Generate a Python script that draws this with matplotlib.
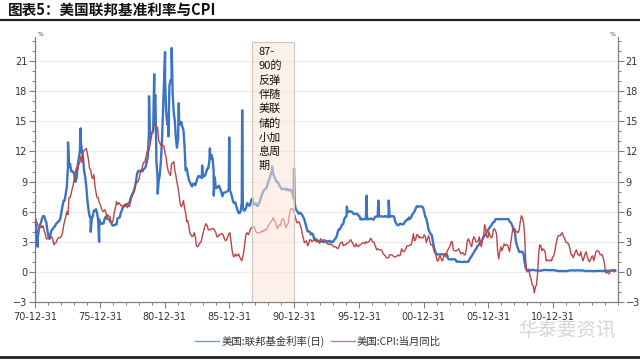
import numpy as np
import matplotlib
matplotlib.use("Agg")
import matplotlib.pyplot as plt
from matplotlib.patches import Rectangle
from matplotlib.ticker import FixedLocator, MultipleLocator

plt.rcParams['font.family'] = ['Noto Sans CJK SC', 'DejaVu Sans']

title = "图表5：美国联邦基准利率与CPI"
series_names = ["美国:联邦基金利率(日)", "美国:CPI:当月同比"]
note_text = "87-\n90的\n反弹\n伴随\n美联\n储的\n小加\n息周\n期"
watermark = "华泰要资讯"
xtick_years = [1971, 1976, 1981, 1986, 1991, 1996, 2001, 2006, 2011]
xtick_labels = ["70-12-31", "75-12-31", "80-12-31", "85-12-31", "90-12-31",
                "95-12-31", "00-12-31", "05-12-31", "10-12-31"]
yticks = [-3, 0, 3, 6, 9, 12, 15, 18, 21]
shade_start, shade_end, shade_top = 1987.75, 1990.99, 22.9

start_year = 1971
# Fed funds rate, monthly level (%), 1971-01 ... 2015-10
fed = [
    4.9, 3.7, 3.4, 4.16, 4.63, 4.91, 5.31, 5.56, 5.55, 5.20, 4.91, 4.14,
    3.50, 3.29, 3.83, 4.17, 4.27, 4.46, 4.55, 4.80, 4.87, 5.04, 5.06, 5.33,
    5.94, 6.58, 7.09, 7.12, 7.84, 8.49, 10.40, 10.50, 10.78, 10.01, 10.03, 9.95,
    9.65, 8.97, 9.35, 10.51, 11.31, 11.93, 12.92, 12.01, 11.34, 10.06, 9.45, 8.53,
    7.13, 6.24, 5.54, 5.49, 5.22, 5.55, 6.10, 6.14, 6.24, 5.82, 5.22, 5.20,
    4.87, 4.77, 4.84, 4.82, 5.29, 5.48, 5.31, 5.29, 5.25, 5.03, 4.95, 4.65,
    4.61, 4.68, 4.69, 4.73, 5.35, 5.39, 5.42, 5.90, 6.14, 6.47, 6.51, 6.56,
    6.70, 6.78, 6.79, 6.89, 7.36, 7.60, 7.81, 8.04, 8.45, 8.96, 9.76, 10.03,
    10.07, 10.06, 10.09, 10.01, 10.24, 10.29, 10.47, 10.94, 11.43, 13.77, 13.18, 13.78,
    13.82, 14.13, 17.19, 17.61, 10.98, 9.47, 9.03, 9.61, 10.87, 12.81, 15.85, 18.90,
    19.08, 15.93, 14.70, 15.72, 18.52, 19.10, 19.04, 17.82, 15.87, 15.08, 13.31, 12.37,
    13.22, 14.78, 14.68, 14.94, 14.45, 14.15, 12.59, 10.12, 10.31, 9.71, 9.20, 8.95,
    8.68, 8.51, 8.77, 8.80, 8.63, 8.98, 9.37, 9.56, 9.45, 9.48, 9.34, 9.47,
    9.56, 9.59, 9.91, 10.29, 10.32, 11.06, 11.23, 11.64, 11.30, 9.99, 9.43, 8.38,
    8.35, 8.50, 8.58, 8.27, 7.97, 7.53, 7.88, 7.90, 7.92, 7.99, 8.05, 8.27,
    8.14, 7.86, 7.48, 6.99, 6.85, 6.92, 6.56, 6.17, 5.89, 5.85, 6.04, 6.91,
    6.43, 6.10, 6.13, 6.37, 6.85, 6.73, 6.58, 6.73, 7.22, 7.29, 6.69, 6.77,
    6.83, 6.58, 6.58, 6.87, 7.09, 7.51, 7.75, 8.01, 8.19, 8.30, 8.35, 8.76,
    9.12, 9.36, 9.85, 9.84, 9.81, 9.53, 9.24, 8.99, 9.02, 8.84, 8.55, 8.45,
    8.23, 8.24, 8.28, 8.26, 8.18, 8.29, 8.15, 8.13, 8.20, 8.11, 7.81, 7.31,
    6.91, 6.25, 6.12, 5.91, 5.78, 5.90, 5.82, 5.66, 5.45, 5.21, 4.81, 4.43,
    4.03, 4.06, 3.98, 3.73, 3.82, 3.76, 3.25, 3.30, 3.22, 3.10, 3.09, 2.92,
    3.02, 3.03, 3.07, 2.96, 3.00, 3.04, 3.06, 3.03, 3.09, 2.99, 3.02, 2.96,
    3.05, 3.25, 3.34, 3.56, 4.01, 4.25, 4.26, 4.47, 4.73, 4.76, 5.29, 5.45,
    5.53, 5.92, 5.98, 6.05, 6.01, 6.00, 5.85, 5.74, 5.80, 5.76, 5.80, 5.60,
    5.56, 5.22, 5.31, 5.22, 5.24, 5.27, 5.40, 5.22, 5.30, 5.24, 5.31, 5.29,
    5.25, 5.19, 5.39, 5.51, 5.50, 5.56, 5.52, 5.54, 5.54, 5.50, 5.52, 5.50,
    5.56, 5.51, 5.49, 5.45, 5.49, 5.56, 5.54, 5.55, 5.51, 5.07, 4.83, 4.68,
    4.63, 4.76, 4.81, 4.74, 4.74, 4.76, 4.99, 5.07, 5.22, 5.20, 5.42, 5.30,
    5.45, 5.73, 5.85, 6.02, 6.27, 6.53, 6.54, 6.50, 6.52, 6.51, 6.51, 6.40,
    5.98, 5.49, 5.31, 4.80, 4.21, 3.97, 3.77, 3.65, 3.07, 2.49, 2.09, 1.82,
    1.73, 1.74, 1.73, 1.75, 1.75, 1.75, 1.73, 1.74, 1.75, 1.75, 1.34, 1.24,
    1.24, 1.26, 1.25, 1.26, 1.26, 1.22, 1.01, 1.03, 1.01, 1.01, 1.00, 0.98,
    1.00, 1.01, 1.00, 1.00, 1.00, 1.03, 1.26, 1.43, 1.61, 1.76, 1.93, 2.16,
    2.28, 2.50, 2.63, 2.79, 3.00, 3.04, 3.26, 3.50, 3.62, 3.78, 4.00, 4.16,
    4.29, 4.49, 4.59, 4.79, 4.94, 4.99, 5.24, 5.25, 5.25, 5.25, 5.25, 5.24,
    5.25, 5.26, 5.26, 5.25, 5.25, 5.25, 5.26, 5.02, 4.94, 4.76, 4.49, 4.24,
    3.94, 2.98, 2.61, 2.28, 1.98, 2.00, 2.01, 2.00, 1.81, 0.97, 0.39, 0.16,
    0.15, 0.22, 0.18, 0.15, 0.18, 0.21, 0.16, 0.16, 0.15, 0.12, 0.12, 0.12,
    0.11, 0.13, 0.16, 0.20, 0.20, 0.18, 0.18, 0.19, 0.19, 0.19, 0.19, 0.18,
    0.17, 0.16, 0.14, 0.10, 0.09, 0.09, 0.07, 0.10, 0.08, 0.07, 0.08, 0.07,
    0.08, 0.10, 0.13, 0.14, 0.16, 0.16, 0.16, 0.13, 0.14, 0.16, 0.16, 0.16,
    0.14, 0.15, 0.14, 0.15, 0.11, 0.09, 0.09, 0.08, 0.08, 0.09, 0.08, 0.09,
    0.07, 0.07, 0.08, 0.09, 0.09, 0.10, 0.09, 0.09, 0.09, 0.09, 0.09, 0.12,
    0.11, 0.11, 0.11, 0.12, 0.12, 0.13, 0.13, 0.14, 0.14, 0.12,
]
# Daily spikes of the fed funds rate
fed_spike_dates = [1971.2, 1973.55, 1974.52, 1975.3, 1975.95, 1979.8, 1980.2, 1980.47,
                   1981.04, 1981.3, 1981.55, 1982.1, 1983.9, 1984.5, 1984.8, 1985.99,
                   1986.99, 1989.3, 1990.99, 1995.07, 1996.6, 1997.5, 1998.3]
fed_spike_values = [2.5, 12.9, 14.3, 4.0, 3.0, 17.5, 19.7, 7.8,
                    21.9, 13.5, 22.3, 16.8, 10.6, 12.3, 7.6, 13.4,
                    16.1, 10.5, 10.3, 6.5, 7.6, 7.1, 7.1]

# CPI year-on-year (%), monthly, 1971-01 ... 2015-10
cpi = [
    5.3, 5.0, 4.7, 4.2, 4.4, 4.6, 4.4, 4.6, 4.1, 3.8, 3.3, 3.3,
    3.3, 3.5, 3.5, 3.5, 3.2, 2.7, 2.9, 2.9, 3.2, 3.4, 3.4, 3.4,
    3.6, 3.9, 4.6, 5.1, 5.5, 6.0, 5.7, 7.4, 7.4, 7.8, 8.3, 8.7,
    9.4, 10.0, 10.4, 10.1, 10.7, 10.9, 11.5, 10.9, 11.9, 12.1, 12.2, 12.3,
    11.8, 11.2, 10.3, 10.2, 9.5, 9.3, 9.7, 8.6, 7.9, 7.4, 7.4, 6.9,
    6.7, 6.3, 6.1, 6.0, 6.2, 6.0, 5.4, 5.7, 5.5, 5.5, 4.9, 4.9,
    5.2, 6.0, 6.4, 7.0, 6.7, 6.9, 6.8, 6.6, 6.6, 6.4, 6.7, 6.7,
    6.8, 6.4, 6.6, 6.5, 7.0, 7.4, 7.7, 7.9, 8.3, 8.9, 8.9, 9.0,
    9.3, 9.9, 10.1, 10.5, 10.9, 10.9, 11.3, 11.8, 12.2, 12.1, 12.6, 13.3,
    13.9, 14.2, 14.8, 14.7, 14.4, 14.4, 13.1, 12.9, 12.6, 12.8, 12.6, 12.5,
    11.8, 11.4, 10.5, 10.0, 9.8, 9.6, 10.8, 10.8, 11.0, 10.1, 9.6, 8.9,
    8.4, 7.6, 6.8, 6.5, 6.7, 7.1, 6.4, 5.9, 5.0, 5.1, 4.6, 3.8,
    3.7, 3.5, 3.6, 3.9, 3.5, 2.6, 2.5, 2.6, 2.9, 2.9, 3.3, 3.8,
    4.2, 4.6, 4.8, 4.6, 4.2, 4.2, 4.2, 4.3, 4.3, 4.3, 4.1, 3.9,
    3.5, 3.5, 3.7, 3.7, 3.8, 3.8, 3.6, 3.3, 3.1, 3.2, 3.5, 3.8,
    3.9, 3.1, 2.2, 1.6, 1.5, 1.8, 1.6, 1.6, 1.8, 1.5, 1.3, 1.1,
    1.5, 2.1, 3.0, 3.8, 3.9, 3.7, 3.9, 4.3, 4.4, 4.5, 4.5, 4.4,
    4.0, 3.9, 3.9, 3.9, 3.9, 4.0, 4.1, 4.0, 4.2, 4.2, 4.2, 4.4,
    4.7, 4.8, 5.0, 5.1, 5.4, 5.2, 5.0, 4.7, 4.3, 4.5, 4.7, 4.6,
    5.2, 5.3, 5.2, 4.7, 4.4, 4.7, 4.8, 5.6, 6.2, 6.3, 6.3, 6.1,
    5.7, 5.3, 4.9, 4.9, 5.0, 4.7, 4.4, 3.8, 3.4, 2.9, 3.0, 3.1,
    2.6, 2.8, 3.2, 3.2, 3.0, 3.1, 3.2, 3.1, 3.0, 3.2, 3.0, 2.9,
    3.3, 3.2, 3.1, 3.2, 3.2, 3.0, 2.8, 2.8, 2.7, 2.8, 2.7, 2.7,
    2.5, 2.5, 2.5, 2.4, 2.3, 2.5, 2.8, 2.9, 3.0, 2.6, 2.7, 2.7,
    2.8, 2.9, 2.9, 3.1, 3.2, 3.0, 2.8, 2.6, 2.5, 2.8, 2.6, 2.5,
    2.7, 2.7, 2.8, 2.9, 2.9, 2.8, 3.0, 2.9, 3.0, 3.0, 3.3, 3.3,
    3.0, 3.0, 2.8, 2.5, 2.2, 2.3, 2.2, 2.2, 2.2, 2.1, 1.8, 1.7,
    1.6, 1.4, 1.4, 1.4, 1.7, 1.7, 1.7, 1.6, 1.5, 1.5, 1.5, 1.6,
    1.7, 1.6, 1.7, 2.3, 2.1, 2.0, 2.1, 2.3, 2.6, 2.6, 2.6, 2.7,
    2.7, 3.2, 3.8, 3.1, 3.2, 3.7, 3.7, 3.4, 3.5, 3.4, 3.4, 3.4,
    3.7, 3.5, 2.9, 3.3, 3.6, 3.2, 2.7, 2.7, 2.6, 2.1, 1.9, 1.6,
    1.1, 1.1, 1.5, 1.6, 1.2, 1.1, 1.5, 1.8, 1.5, 2.0, 2.2, 2.4,
    2.6, 3.0, 3.0, 2.2, 2.1, 2.1, 2.1, 2.2, 2.3, 2.0, 1.8, 1.9,
    1.9, 1.7, 1.7, 2.3, 3.1, 3.3, 3.0, 2.7, 2.5, 3.2, 3.5, 3.3,
    3.0, 3.0, 3.1, 3.5, 2.8, 2.5, 3.2, 3.6, 4.7, 4.3, 3.5, 3.4,
    4.0, 3.6, 3.4, 3.5, 4.2, 4.3, 4.1, 3.8, 2.1, 1.3, 2.0, 2.5,
    2.1, 2.4, 2.8, 2.6, 2.7, 2.7, 2.4, 2.0, 2.8, 3.5, 4.3, 4.1,
    4.3, 4.0, 4.0, 3.9, 4.2, 5.0, 5.6, 5.4, 4.9, 3.7, 1.1, 0.1,
    0.0, 0.2, -0.4, -0.7, -1.3, -1.4, -2.1, -1.5, -1.3, -0.2, 1.8, 2.7,
    2.6, 2.1, 2.3, 2.2, 2.0, 1.1, 1.2, 1.1, 1.1, 1.2, 1.1, 1.5,
    1.6, 2.1, 2.7, 3.2, 3.6, 3.6, 3.6, 3.8, 3.9, 3.5, 3.4, 3.0,
    2.9, 2.9, 2.7, 2.3, 1.7, 1.7, 1.4, 1.7, 2.0, 2.2, 1.8, 1.7,
    1.6, 2.0, 1.5, 1.1, 1.4, 1.8, 2.0, 1.5, 1.2, 1.0, 1.2, 1.5,
    1.6, 1.1, 1.5, 2.0, 2.1, 2.1, 2.0, 1.7, 1.7, 1.7, 1.3, 0.8,
    -0.1, 0.0, -0.1, -0.2, 0.0, 0.1, 0.2, 0.2, 0.0, 0.2,
]

blue = "#3b74c2"
red = "#b9464a"

# monthly positions (decimal years)
cpi_x = start_year + (np.arange(len(cpi)) + 0.5) / 12.0
fed_x_m = start_year + (np.arange(len(fed)) + 0.5) / 12.0
fed_x = np.concatenate([fed_x_m, fed_spike_dates])
fed_y = np.concatenate([fed, fed_spike_values])
order = np.argsort(fed_x, kind="stable")
fed_x, fed_y = fed_x[order], fed_y[order]

fig = plt.figure(figsize=(6.4, 3.6), dpi=100)
fig.patch.set_facecolor("white")
ax = fig.add_axes([35/640, 58/360, 583/640, 265/360])

ax.plot(fed_x, fed_y, color=blue, lw=1.7, zorder=3, label=series_names[0])
ax.plot(cpi_x, cpi, color=red, lw=1.0, zorder=4, label=series_names[1])

ax.add_patch(Rectangle((shade_start, -3), shade_end - shade_start, shade_top + 3,
                       facecolor="#fce4d6", alpha=0.55, edgecolor="none", zorder=5))
ax.add_patch(Rectangle((shade_start, -3), shade_end - shade_start, shade_top + 3,
                       facecolor="none", edgecolor="#cfc6bf", lw=0.8, zorder=6))
ax.text(shade_start + 0.5, shade_top - 0.45, note_text, fontsize=8, va="top", ha="left",
        linespacing=1.45, color="#111111", zorder=7)

ax.set_xlim(1971.0, 2016.0)
ax.set_ylim(-3, 23.4)
ax.xaxis.set_major_locator(FixedLocator(xtick_years))
ax.set_xticks(xtick_years)
ax.set_xticklabels(xtick_labels)
ax.xaxis.set_minor_locator(MultipleLocator(1))
ax.set_yticks(yticks)
ax.yaxis.set_minor_locator(MultipleLocator(1))
ax.grid(axis="y", which="major", color="#ececec", lw=0.8, zorder=0)

ax.spines["top"].set_visible(False)
for s in ["left", "right", "bottom"]:
    ax.spines[s].set_color("#7f7f7f")
    ax.spines[s].set_linewidth(0.9)

ax.tick_params(axis="both", which="major", direction="out", length=4, width=0.8,
               color="#7f7f7f", labelsize=7, labelcolor="#333333", pad=1.5)
ax.tick_params(axis="both", which="minor", direction="out", length=2.5, width=0.7,
               color="#7f7f7f")
ax.tick_params(axis="y", which="both", right=True, labelright=True)
ax.tick_params(axis="x", pad=3)
for lab in ax.get_xticklabels() + ax.get_yticklabels() + ax.yaxis.get_ticklabels():
    lab.set_family(["DejaVu Sans"])
for lab in ax.yaxis.get_majorticklabels():
    lab.set_family(["DejaVu Sans"])

ax.text(0.004, 1.0, "%", transform=ax.transAxes, fontsize=4.5, color="#333333",
        ha="left", va="bottom", family=["DejaVu Sans"])
ax.text(0.996, 1.0, "%", transform=ax.transAxes, fontsize=4.5, color="#333333",
        ha="right", va="bottom", family=["DejaVu Sans"])

# title and rules
fig.text(8/640, 1 - 10/360, title, fontsize=10.5, fontweight="bold", ha="left",
         va="center", color="#111111")
fig.add_artist(plt.Line2D([0, 1], [1 - 20/360, 1 - 20/360], color="#222222", lw=1.6,
                          transform=fig.transFigure))
fig.add_artist(plt.Line2D([0, 1], [1 - 357/360, 1 - 357/360], color="#222222", lw=2.0,
                          transform=fig.transFigure))

leg = fig.legend(loc="center", bbox_to_anchor=(318/640, 1 - 341/360), ncol=2,
                 frameon=False, fontsize=7.5, handlelength=2.3, handletextpad=0.2,
                 columnspacing=0.6)
for t in leg.get_texts():
    t.set_color("#333333")
for l in leg.get_lines():
    l.set_linewidth(1.0)
    l.set_alpha(0.7)

fig.text(567/640, 1 - 331/360, watermark, fontsize=14, color="#d6d6d6", ha="center",
         va="center", zorder=10)

fig.savefig("out.png", dpi=100, facecolor="white")
